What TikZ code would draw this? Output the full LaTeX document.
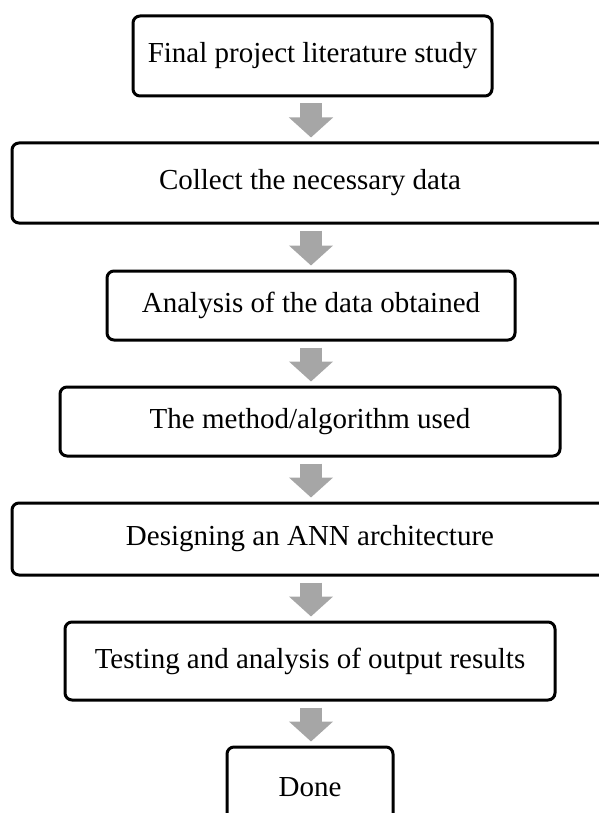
\documentclass[tikz,border=0pt]{standalone}
\usepackage{fontspec}
\setmainfont{Liberation Serif}
\usetikzlibrary{arrows.meta}
\definecolor{arrowgray}{HTML}{A6A6A6}
\tikzset{
  stepbox/.style={draw=black, line width=3pt, rounded corners=7pt, fill=white,
    inner sep=0pt, align=center, font=\fontsize{29}{34}\selectfont},
  blockarrow/.style={draw=arrowgray, line width=22pt,
    -{Triangle[width=43pt,length=20pt]}, shorten <=6pt, shorten >=4pt}
}
\begin{document}
\begin{tikzpicture}[x=1pt,y=-1pt]
\useasboundingbox (0,0) rectangle (598,813);
\node[stepbox, minimum width=359pt, minimum height=80pt] (b1) at (312.5,56) {Final project literature study};
\node[stepbox, minimum width=596pt, minimum height=80pt] (b2) at (310,183) {Collect the necessary data};
\node[stepbox, minimum width=408pt, minimum height=69pt] (b3) at (311,305.5) {Analysis of the data obtained};
\node[stepbox, minimum width=500pt, minimum height=69pt] (b4) at (310,421.5) {The method/algorithm used};
\node[stepbox, minimum width=596pt, minimum height=72pt] (b5) at (310,539) {Designing an ANN architecture};
\node[stepbox, minimum width=490pt, minimum height=78pt] (b6) at (310,661) {Testing and analysis of output results};
\node[stepbox, minimum width=166pt, minimum height=80pt] (b7) at (310,787) {Done};
\draw[blockarrow] (b1.south -| 311,0) -- (b2.north -| 311,0);
\draw[blockarrow] (b2.south -| 311,0) -- (b3.north -| 311,0);
\draw[blockarrow] (b3.south -| 311,0) -- (b4.north -| 311,0);
\draw[blockarrow] (b4.south -| 311,0) -- (b5.north -| 311,0);
\draw[blockarrow] (b5.south -| 311,0) -- (b6.north -| 311,0);
\draw[blockarrow] (b6.south -| 311,0) -- (b7.north -| 311,0);
\end{tikzpicture}
\end{document}
